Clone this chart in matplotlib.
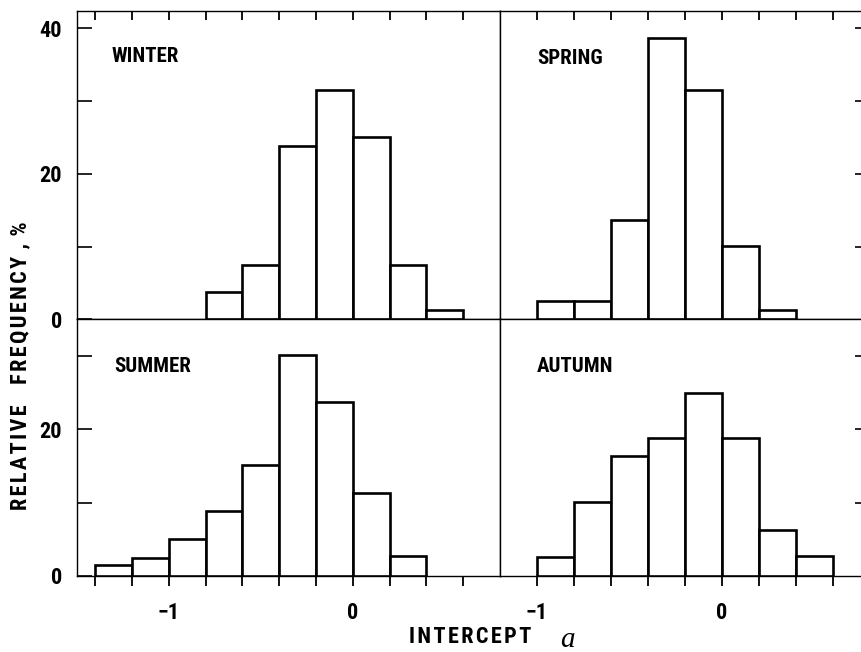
import numpy as np
import matplotlib
matplotlib.use("Agg")
import matplotlib.pyplot as plt
from matplotlib.ticker import FixedLocator, FixedFormatter

plt.rcParams['font.family'] = ['Roboto Condensed', 'DejaVu Sans']
plt.rcParams['font.stretch'] = 'condensed'
plt.rcParams['font.weight'] = 'bold'

# Relative frequency (%) of the intercept a, per season, in bins of width 0.2
bin_width = 0.2
winter_start = -0.8
winter_freq = [3.7, 7.5, 23.8, 31.5, 25.1, 7.5, 1.3]
spring_start = -1.0
spring_freq = [2.5, 2.5, 13.7, 38.7, 31.5, 10.1, 1.3]
summer_start = -1.4
summer_freq = [1.5, 2.5, 5.0, 8.9, 15.2, 30.1, 23.7, 11.3, 2.7]
autumn_start = -1.0
autumn_freq = [2.6, 10.1, 16.3, 18.8, 25.0, 18.8, 6.3, 2.7]

season_names = ["WINTER", "SPRING", "SUMMER", "AUTUMN"]
x_tick_labels = ["\u22121", "0"]
y_tick_labels = ["0", "", "20", "", "40"]

HS = "\u200a"  # hair space for letter spacing


def spaced(s):
    return HS.join(s)


W, H = 862, 652
fig = plt.figure(figsize=(W / 100, H / 100), dpi=100)


def fx(px):
    return px / W


def fy(py):
    return 1 - py / H


xl0, xmid, xr1 = 76.7, 500.0, 869.5
yt0, ymid, yb1 = 10.7, 319.3, 576.0

ax_w = fig.add_axes([fx(xl0), fy(ymid), fx(xmid - xl0), fy(yt0) - fy(ymid)])
ax_sp = fig.add_axes([fx(xmid), fy(ymid), fx(xr1 - xmid), fy(yt0) - fy(ymid)])
ax_su = fig.add_axes([fx(xl0), fy(yb1), fx(xmid - xl0), fy(ymid) - fy(yb1)])
ax_au = fig.add_axes([fx(xmid), fy(yb1), fx(xr1 - xmid), fy(ymid) - fy(yb1)])

panels = [
    (ax_w, winter_start, winter_freq, season_names[0]),
    (ax_sp, spring_start, spring_freq, season_names[1]),
    (ax_su, summer_start, summer_freq, season_names[2]),
    (ax_au, autumn_start, autumn_freq, season_names[3]),
]

label_pos = {ax_w: (112, 57), ax_sp: (537, 58), ax_su: (114, 367), ax_au: (537, 367)}

for ax, start, freq, name in panels:
    lefts = start + bin_width * np.arange(len(freq))
    ax.bar(lefts, freq, width=bin_width, align='edge', color='white',
           edgecolor='black', linewidth=1.9, zorder=3)
    for s in ax.spines.values():
        s.set_linewidth(1.0)
    px, py = label_pos[ax]
    fig.text(fx(px), fy(py), name, fontsize=15, fontweight='bold',
             ha='left', va='center')

# x ranges
for ax in (ax_w, ax_su):
    ax.set_xlim(-1.5, 0.8)
for ax in (ax_sp, ax_au):
    ax.set_xlim(-1.2, 0.8)

# y ranges
for ax in (ax_w, ax_sp):
    ax.set_ylim(0, 42.4)
for ax in (ax_su, ax_au):
    ax.set_ylim(0, 35.0)


def x_ticks(ax):
    lo, hi = ax.get_xlim()
    return [round(v, 1) for v in np.arange(-1.4, 0.61, 0.2) if lo + 1e-6 < v < hi - 1e-6]


# top panels: ticks on top edge only, inward
for ax in (ax_w, ax_sp):
    ax.xaxis.set_major_locator(FixedLocator(x_ticks(ax)))
    ax.tick_params(axis='x', which='both', bottom=False, top=True, labelbottom=False,
                   direction='in', length=6.5, width=1.3)

# bottom panels: ticks on bottom edge, outward, with labels at -1 and 0
for ax in (ax_su, ax_au):
    ax.xaxis.set_major_locator(FixedLocator([-1.0, 0.0]))
    ax.xaxis.set_major_formatter(FixedFormatter(x_tick_labels))
    ax.xaxis.set_minor_locator(FixedLocator(x_ticks(ax)))
    ax.tick_params(axis='x', which='both', bottom=True, top=False, direction='out',
                   length=7.2, width=1.3)
    ax.tick_params(axis='x', which='major', labelsize=16, pad=11.5)

# y ticks
for ax in (ax_w, ax_su):
    ax.yaxis.set_major_locator(FixedLocator([0, 10, 20, 30, 40]))
    ax.yaxis.set_major_formatter(FixedFormatter(y_tick_labels))
    ax.tick_params(axis='y', left=True, right=False, direction='in', length=10.8,
                   width=1.2, labelsize=16, pad=10.5)
for ax in (ax_sp, ax_au):
    ax.yaxis.set_major_locator(FixedLocator([10, 20, 30, 40]))
    ax.tick_params(axis='y', left=False, right=True, labelleft=False, direction='in',
                   length=10, width=1.2)

for lab in ax_w.get_yticklabels() + ax_su.get_yticklabels():
    lab.set_fontweight('bold')
for lab in ax_su.get_xticklabels() + ax_au.get_xticklabels():
    lab.set_fontweight('bold')

fig.text(fx(20), fy(366), spaced("RELATIVE") + "    " + spaced("FREQUENCY") + " " + HS + ", " + HS + "%",
         rotation=90, ha='center', va='center', fontsize=16, fontweight='bold')
fig.text(fx(470), fy(637), spaced("INTERCEPT"), ha='center', va='center', fontsize=16,
         fontweight='bold')
fig.text(fx(567), fy(640), "a", ha='center', va='center', fontsize=21,
         style='italic', fontweight='normal', family='Liberation Serif')

fig.savefig("out.png", dpi=100)
